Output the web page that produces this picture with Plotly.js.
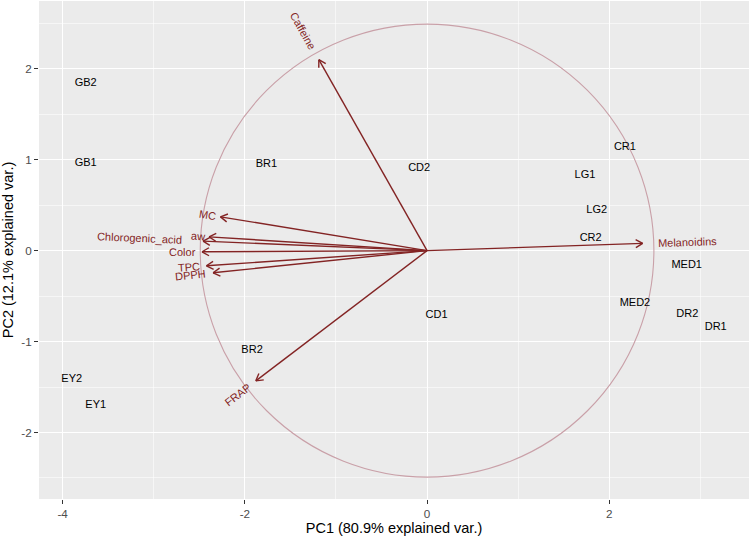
<!DOCTYPE html>
<html><head><meta charset="utf-8">
<script src="https://cdn.plot.ly/plotly-3.0.1.min.js"></script>
<style>html,body{margin:0;padding:0;background:#fff}#chart{width:750px;height:537px}</style>
</head><body><div id="chart"></div>
<script>
// Sample scores (PC1, PC2)
const samples = ['GB2','GB1','EY2','EY1','BR1','CD2','BR2','CD1','CR1','LG1','LG2','CR2','MED1','MED2','DR2','DR1'];
const samplePC1 = [-3.747,-3.747,-3.901,-3.637,-1.763,-0.087,-1.921,0.104,2.172,1.733,1.862,1.796,2.850,2.282,2.857,3.169];
const samplePC2 = [1.835,0.957,-1.411,-1.704,0.950,0.906,-1.092,-0.708,1.136,0.829,0.445,0.137,-0.159,-0.580,-0.700,-0.847];

// Variable loadings (arrow tips)
const variables = ['Caffeine','Melanoidins','MC','aw','Chlorogenic_acid','Color','TPC','DPPH','FRAP'];
const varPC1 = [-1.188,2.367,-2.268,-2.393,-2.459,-2.470,-2.422,-2.349,-1.880];
const varPC2 = [2.099,0.079,0.371,0.151,0.104,-0.013,-0.167,-0.244,-1.432];
const labelAdjust = [1.055,1.07,1.02,1.02,1.096,1.03,1.03,1.035,1.04];

const circleRadius = 2.49;
const xTicks = [-4,-2,0,2];
const yTicks = [-2,-1,0,1,2];
const xTitle = 'PC1 (80.9% explained var.)';
const yTitle = 'PC2 (12.1% explained var.)';

const FONT = '"Liberation Sans", Arial, Helvetica, sans-serif';
const ARROW_COL = '#832424';
const xRange = [-4.26, 3.534], yRange = [-2.731, 2.744];
const W = 750, H = 537, M = {l:39, r:1, t:1, b:38};
const sx = (W - M.l - M.r) / (xRange[1] - xRange[0]);
const sy = (H - M.t - M.b) / (yRange[1] - yRange[0]);

// arrows (shafts + open heads)
const ax = [], ay = [];
const headLen = 8, headAng = Math.PI / 6;
variables.forEach((v, i) => {
  const tx = varPC1[i], ty = varPC2[i];
  ax.push(0, tx, null); ay.push(0, ty, null);
  const px = -tx * sx, py = -ty * sy, L = Math.hypot(px, py);
  const ux = px / L, uy = py / L;
  [headAng, -headAng].forEach(t => {
    const bx = (ux * Math.cos(t) - uy * Math.sin(t)) * headLen;
    const by = (ux * Math.sin(t) + uy * Math.cos(t)) * headLen;
    ax.push(tx + bx / sx, tx, null); ay.push(ty + by / sy, ty, null);
  });
});

const cv = document.createElement('canvas').getContext('2d');
cv.font = '11px ' + FONT;
const annotations = variables.map((v, i) => {
  const tx = varPC1[i], ty = varPC2[i], k = labelAdjust[i];
  const a = Math.atan(ty / tx);
  const w = cv.measureText(v).width;
  const s = tx < 0 ? -w / 2 : w / 2;
  return {
    x: tx * k, y: ty * k, xref: 'x', yref: 'y', text: v, showarrow: false,
    textangle: -a * 180 / Math.PI, xanchor: 'center', yanchor: 'middle',
    xshift: s * Math.cos(a), yshift: s * Math.sin(a),
    font: {family: FONT, size: 11, color: ARROW_COL}
  };
});

const traces = [
  {type:'scatter', mode:'lines', x: ax, y: ay, line:{color: ARROW_COL, width:1.4}, hoverinfo:'skip'},
  {type:'scatter', mode:'text', x: samplePC1, y: samplePC2, text: samples, textposition:'middle center',
   textfont:{family: FONT, size:11, color:'#000'}, hoverinfo:'skip'}
];

const axisCommon = {
  showline:false, zeroline:false, ticks:'outside', ticklen:4, tickwidth:1, tickcolor:'#333333',
  tickfont:{family: FONT, size:11.7, color:'#4d4d4d'}, gridcolor:'#ffffff', gridwidth:1.1
};

const layout = {
  width: W, height: H, margin: M, showlegend:false,
  paper_bgcolor:'#ffffff', plot_bgcolor:'#EBEBEB', font:{family: FONT, color:'#4d4d4d'},
  xaxis: Object.assign({}, axisCommon, {range: xRange, tickvals: xTicks, ticktext: xTicks.map(String),
    minor:{tickvals:[-3,-1,1,3], showgrid:true, gridcolor:'#ffffff', gridwidth:0.55, ticks:''},
    title:{text: xTitle, font:{family: FONT, size:14.5, color:'#000'}, standoff:0}}),
  yaxis: Object.assign({}, axisCommon, {range: yRange, tickvals: yTicks, ticktext: yTicks.map(String),
    minor:{tickvals:[-2.5,-1.5,-0.5,0.5,1.5,2.5], showgrid:true, gridcolor:'#ffffff', gridwidth:0.55, ticks:''},
    title:{text: yTitle, font:{family: FONT, size:14.5, color:'#000'}, standoff:4}}),
  shapes: [{type:'circle', xref:'x', yref:'y', x0:-circleRadius, x1:circleRadius, y0:-circleRadius, y1:circleRadius,
    line:{color:'#c9a0a8', width:1.1}, layer:'between'}],
  annotations: annotations
};

Plotly.newPlot('chart', traces, layout, {staticPlot:true, displayModeBar:false});
</script>
</body></html>
